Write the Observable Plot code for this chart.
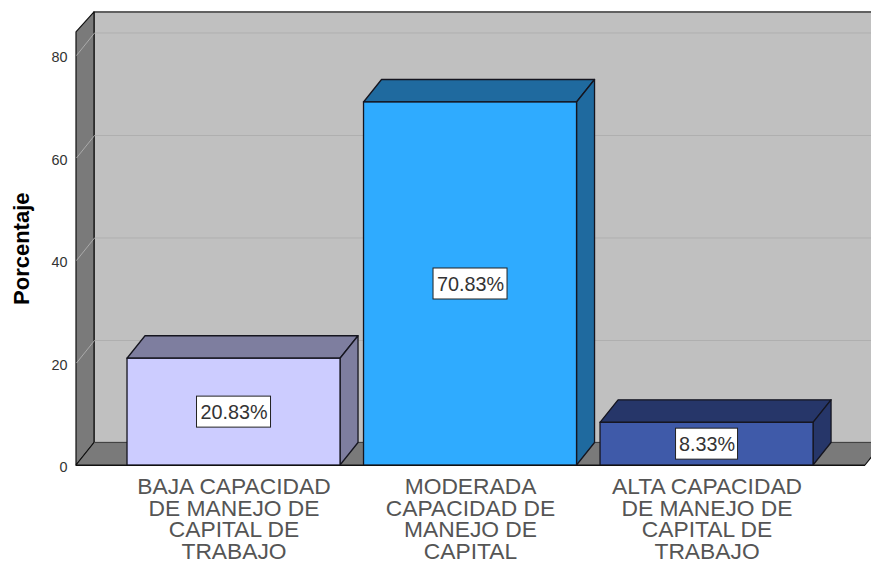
<!DOCTYPE html>
<html>
<head>
<meta charset="utf-8">
<script src="https://cdn.jsdelivr.net/npm/d3@7"></script>
<script src="https://cdn.jsdelivr.net/npm/@observablehq/plot@0.6"></script>
<style>html,body{margin:0;padding:0;background:#fff;overflow:hidden}svg{display:block}</style>
</head>
<body>
<div id="chart"></div>
<script>
const categories = [
  "BAJA CAPACIDAD\nDE MANEJO DE\nCAPITAL DE\nTRABAJO",
  "MODERADA\nCAPACIDAD DE\nMANEJO DE\nCAPITAL",
  "ALTA CAPACIDAD\nDE MANEJO DE\nCAPITAL DE\nTRABAJO"
];
const values = [20.83, 70.83, 8.33];
const valueLabels = ["20.83%", "70.83%", "8.33%"];
const yTicks = [0, 20, 40, 60, 80];
const frontColors = ["#ccccff", "#2fabff", "#3f5aa9"];
const sideColors = ["#7e7e9f", "#1f6a9f", "#263669"];

// Scale geometry (1 x unit = one category step, 1 y unit = one percent)
const pxX = 1 / 236.5, pxY = 1 / 5.125;
const barHalf = 106.5 * pxX;
const depthX = 18 * pxX, depthY = 22.5 * pxY;
const xMin = -0.666, xMax = 2.67, wallTop = 84.5;
const stroke = "#15151f";

const bars = values.map((v, i) => ({i, v, x1: i - barHalf, x2: i + barHalf, label: valueLabels[i]}));
const topFaces = bars.flatMap(b => [
  {i: b.i, y: b.v, x1: b.x1, x2: b.x2},
  {i: b.i, y: b.v + depthY, x1: b.x1 + depthX, x2: b.x2 + depthX}
]);
const sideFaces = bars.flatMap(b => [
  {i: b.i, x: b.x2, y1: 0, y2: b.v},
  {i: b.i, x: b.x2 + depthX, y1: depthY, y2: b.v + depthY}
]);
const boxH = 31 * pxY;
const boxes = bars.map(b => {
  const w = (b.label.length * 12 + 2) * pxX;
  return {x1: b.i - w / 2, x2: b.i + w / 2, y1: b.v / 2 - boxH / 2, y2: b.v / 2 + boxH / 2};
});

const chart = Plot.plot({
  width: 871,
  height: 562,
  marginLeft: 76,
  marginRight: 0,
  marginTop: 0,
  marginBottom: 97,
  style: {background: "#fff", fontFamily: "'Liberation Sans', Arial, sans-serif"},
  x: {domain: [xMin, xMax], range: [76, 865], axis: null},
  y: {domain: [0, 90], range: [465, 3.75], axis: null},
  marks: [
    // back wall
    Plot.rect([0], {x1: xMin + depthX, x2: xMax + depthX, y1: depthY, y2: wallTop + 3.9, fill: "#c0c0c0", stroke: "#111", strokeWidth: 1.2}),
    // left wall
    Plot.areaY([{x: xMin, y1: 0, y2: wallTop}, {x: xMin + depthX, y1: depthY, y2: wallTop + 3.9}],
      {x: "x", y1: "y1", y2: "y2", fill: "#7a7a7a", stroke: "#111", strokeWidth: 1.2}),
    // floor
    Plot.areaX([{y: 0, x1: xMin, x2: xMax}, {y: depthY, x1: xMin + depthX, x2: xMax + depthX}],
      {y: "y", x1: "x1", x2: "x2", fill: "#7a7a7a", stroke: "#111", strokeWidth: 1.2}),
    // grid lines on back wall and left wall
    Plot.link(yTicks.slice(1), {x1: xMin + depthX, x2: xMax + depthX, y1: d => d + depthY, y2: d => d + depthY, stroke: "#afafaf", strokeWidth: 1}),
    Plot.link(yTicks.slice(1), {x1: xMin, x2: xMin + depthX, y1: d => d, y2: d => d + depthY, stroke: "#aaaaaa", strokeWidth: 1}),
    // re-cover floor/back wall seam
    Plot.ruleY([depthY], {x1: xMin + depthX, x2: xMax + depthX, stroke: "#777", strokeWidth: 1}),
    // bars: top, side, front
    Plot.areaX(topFaces, {y: "y", x1: "x1", x2: "x2", z: "i", fill: d => sideColors[d.i], stroke, strokeWidth: 1.3}),
    Plot.areaY(sideFaces, {x: "x", y1: "y1", y2: "y2", z: "i", fill: d => sideColors[d.i], stroke, strokeWidth: 1.3}),
    Plot.rect(bars, {x1: "x1", x2: "x2", y1: 0, y2: "v", fill: (d) => frontColors[d.i], stroke, strokeWidth: 1.3}),
    // value label boxes
    Plot.rect(boxes, {x1: "x1", x2: "x2", y1: "y1", y2: "y2", fill: "#fff", stroke: "#222", strokeWidth: 1}),
    Plot.text(bars, {x: "i", y: d => d.v / 2, text: "label", fontSize: 19.8, fill: "#333", dy: 1}),
    // axes
    Plot.axisY(yTicks, {anchor: "left", tickSize: 0, tickPadding: 9, label: null, fontSize: 14.4, color: "#333", dy: 2}),
    Plot.axisX([0, 1, 2], {
      anchor: "bottom", tickSize: 0, tickPadding: 13, label: null, fontSize: 22.8, lineHeight: 0.95,
      tickFormat: i => categories[i], color: "#555", textOverflow: null, lineWidth: Infinity
    }),
    Plot.ruleY([0], {x1: xMin, x2: xMax, stroke: "#111", strokeWidth: 1.2}),
    Plot.text(["Porcentaje"], {x: xMin, dx: -55, y: 42.3, rotate: -90, fontSize: 22, fontWeight: "bold", fill: "#000"})
  ]
});
document.getElementById("chart").appendChild(chart);
</script>
</body>
</html>
